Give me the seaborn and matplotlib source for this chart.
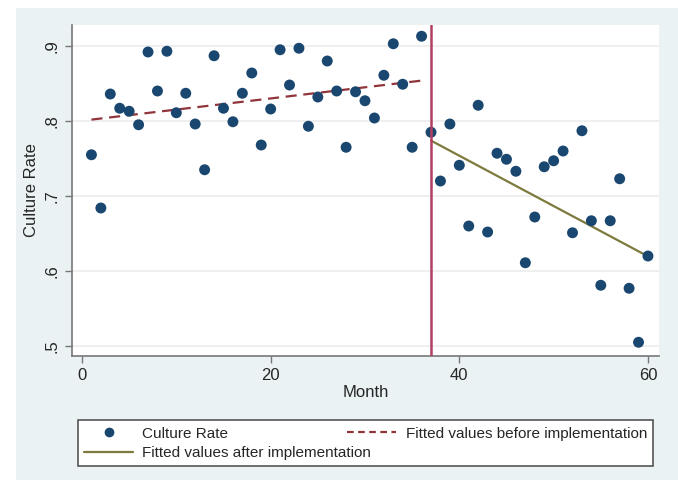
import numpy as np
import pandas as pd
import matplotlib
matplotlib.use("Agg")
import matplotlib.pyplot as plt
import seaborn as sns
from matplotlib.lines import Line2D
from matplotlib.patches import Rectangle

# culture rate by month
months = list(range(1, 61))
culture_rate = [
    0.755, 0.684, 0.836, 0.817, 0.813, 0.795, 0.892, 0.840, 0.893, 0.811,
    0.837, 0.796, 0.735, 0.887, 0.817, 0.799, 0.837, 0.864, 0.768, 0.816,
    0.895, 0.848, 0.897, 0.793, 0.832, 0.880, 0.840, 0.765, 0.839, 0.827,
    0.804, 0.861, 0.903, 0.849, 0.765, 0.913, 0.785, 0.720, 0.796, 0.741,
    0.660, 0.821, 0.652, 0.757, 0.749, 0.733, 0.611, 0.672, 0.739, 0.747,
    0.760, 0.651, 0.787, 0.667, 0.581, 0.667, 0.723, 0.577, 0.505, 0.620,
]
implementation_month = 37
x_ticks = [0, 20, 40, 60]
y_ticks = [0.5, 0.6, 0.7, 0.8, 0.9]
y_tick_labels = [".5", ".6", ".7", ".8", ".9"]

df = pd.DataFrame({"month": months, "rate": culture_rate})
before = df[df["month"] < implementation_month]
after = df[df["month"] >= implementation_month]

navy = "#1a476f"
maroon = "#90353b"
olive = "#7d7a3e"
vline_color = "#b23f62"
bg = "#eaf2f3"

sns.set_theme(style="white")
plt.rcParams["font.family"] = ["Liberation Sans", "DejaVu Sans"]

fig = plt.figure(figsize=(6.78, 4.8), dpi=100, facecolor="white")
fig.patches.append(Rectangle((16 / 678, 0), 1, 1 - 8 / 480, transform=fig.transFigure,
                             facecolor=bg, edgecolor="none", zorder=-10))
ax = fig.add_axes([72 / 678, 1 - 356 / 480, 587 / 678, 331 / 480])
ax.set_facecolor("white")

sns.scatterplot(data=df, x="month", y="rate", color=navy, s=62, edgecolor="none",
                ax=ax, zorder=3, legend=False)
sns.regplot(data=before, x="month", y="rate", scatter=False, ci=None, truncate=True,
            ax=ax, line_kws=dict(color=maroon, lw=1.6, ls=(0, (5, 3))))
sns.regplot(data=after, x="month", y="rate", scatter=False, ci=None, truncate=True,
            ax=ax, line_kws=dict(color=olive, lw=1.6))
ax.axvline(implementation_month, color=vline_color, lw=1.8, zorder=4)

ax.set_xlim(-1.06, 61.17)
ax.set_ylim(0.4867, 0.928)
ax.set_xticks(x_ticks)
ax.set_yticks(y_ticks)
ax.set_yticklabels(y_tick_labels, rotation=90, va="center")
ax.yaxis.grid(True, color="#ececec", lw=1.2)
ax.set_axisbelow(True)
ax.tick_params(axis="both", direction="out", length=5, width=1, color="#777777",
               labelsize=12, left=True, bottom=True, pad=4)
for side in ["top", "right"]:
    ax.spines[side].set_visible(False)
for side in ["left", "bottom"]:
    ax.spines[side].set_color("#777777")
    ax.spines[side].set_linewidth(1.2)
ax.set_xlabel("Month", fontsize=12, labelpad=1)
ax.set_ylabel("Culture Rate", fontsize=12, labelpad=4)

handles = [
    Line2D([], [], ls="none", marker="o", color=navy, markersize=6),
    Line2D([], [], color=olive, lw=1.6),
    Line2D([], [], color=maroon, lw=1.6, ls=(0, (3, 2))),
]
labels = ["Culture Rate", "Fitted values after implementation",
          "Fitted values before implementation"]
leg = fig.legend(handles, labels, ncol=2, loc="lower left",
                 bbox_to_anchor=(78 / 678, 1 - 466 / 480, 575 / 678, 56 / 480),
                 mode="expand", fontsize=11, frameon=True, fancybox=False,
                 edgecolor="#555555", framealpha=1, handlelength=3.2,
                 handletextpad=0.6, borderaxespad=0, labelspacing=0.35)
leg.get_frame().set_linewidth(1.2)

fig.savefig("out.png", dpi=100, facecolor=fig.get_facecolor())
